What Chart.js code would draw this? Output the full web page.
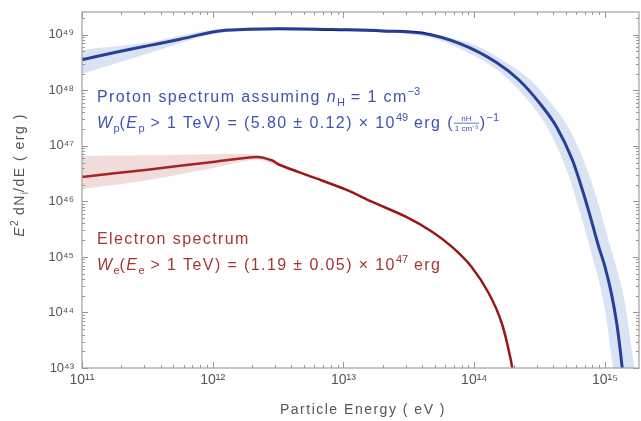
<!DOCTYPE html>
<html>
<head>
<meta charset="utf-8">
<script src="https://cdn.jsdelivr.net/npm/chart.js@4.4.1/dist/chart.umd.min.js"></script>
<style>
html,body{margin:0;padding:0;background:#fff;}
#wrap{width:641px;height:421px;}
</style>
</head>
<body>
<div id="wrap"><canvas id="c" width="641" height="421"></canvas></div>
<script>
// ---- data (log10 values) ----
const protonLogE = [11.0, 11.25, 11.5, 11.75, 12.0, 12.1, 12.5, 13.0, 13.3, 13.6, 13.9, 14.17, 14.34, 14.5, 14.63, 14.75, 14.82, 14.88, 14.95, 15.0, 15.05, 15.09, 15.12, 15.15];
const protonLogW = [48.55, 48.68, 48.80, 48.92, 49.05, 49.08, 49.11, 49.09, 49.07, 49.03, 48.83, 48.50, 48.19, 47.77, 47.34, 46.75, 46.26, 45.79, 45.20, 44.82, 44.33, 43.80, 43.25, 42.6];

const protonBandLogE  = [11.0, 11.5, 12.0, 12.5, 13.3, 13.7, 14.0, 14.2, 14.4, 14.55, 14.7, 14.8, 14.9, 14.95, 15.0, 15.05, 15.1, 15.15, 15.2, 15.25];
const protonBandUpper = [48.73, 48.86, 49.09, 49.13, 49.09, 49.00, 48.82, 48.57, 48.25, 47.88, 47.41, 46.95, 46.33, 45.95, 45.53, 45.11, 44.70, 44.20, 43.40, 42.6];
const protonBandLower = [48.30, 48.66, 49.01, 49.09, 49.05, 48.93, 48.62, 48.32, 47.85, 47.37, 46.61, 45.87, 45.03, 44.60, 44.05, 43.2, 42.4, 42.0, 42.0, 42.0];

const electronLogE = [11.0, 11.5, 12.0, 12.34, 12.45, 12.51, 12.76, 13.02, 13.22, 13.48, 13.68, 13.83, 13.98, 14.11, 14.21, 14.28, 14.31];
const electronLogW = [46.44, 46.57, 46.71, 46.80, 46.74, 46.66, 46.44, 46.21, 45.99, 45.72, 45.45, 45.18, 44.82, 44.35, 43.81, 43.14, 42.7];

const electronBandLogE  = [11.0, 11.5, 12.0, 12.34, 12.5];
const electronBandUpper = [46.82, 46.83, 46.85, 46.84, 46.69];
const electronBandLower = [46.22, 46.38, 46.60, 46.76, 46.63];

const xTickValues = [1e11, 1e12, 1e13, 1e14, 1e15];
const xTickLabels = ['10¹¹', '10¹²', '10¹³', '10¹⁴', '10¹⁵'];
const yTickValues = [1e43, 1e44, 1e45, 1e46, 1e47, 1e48, 1e49];
const yTickLabels = ['10⁴³', '10⁴⁴', '10⁴⁵', '10⁴⁶', '10⁴⁷', '10⁴⁸', '10⁴⁹'];

const xTitle = 'Particle Energy ( eV )';

// ---- helpers ----
const pts = (le, lw) => le.map((e, i) => ({x: Math.pow(10, e), y: Math.pow(10, lw[i])}));
function withMinors(majors, min, max) {
  const out = [];
  majors.forEach(m => { for (let k = 1; k <= 9; k++) { const v = m * k; if (v >= min * 0.999 && v <= max * 1.001) out.push(v); } });
  return out;
}
const X_MIN = 1e11, X_MAX = 1.82e15, Y_MIN = 1e43, Y_MAX = 2.57e49;
const xAll = withMinors(xTickValues, X_MIN, X_MAX);
const yAll = withMinors(yTickValues, Y_MIN, Y_MAX);

const FONT = '"Liberation Sans", Arial, sans-serif';
function setLS(ctx, v) { if ('letterSpacing' in ctx) ctx.letterSpacing = v; }
function rich(ctx, x, y, segs, base, color, ls) {
  ctx.fillStyle = color;
  ctx.textBaseline = 'alphabetic';
  ctx.textAlign = 'left';
  segs.forEach(s => {
    const size = s.small ? Math.round(base * 0.68) : base;
    ctx.font = (s.i ? 'italic ' : '') + size + 'px ' + FONT;
    setLS(ctx, s.small ? '0px' : ls);
    const dy = s.sup ? -base * 0.42 : (s.sub ? base * 0.25 : 0);
    if (s.frac) {
      const fs = Math.round(base * 0.5);
      ctx.font = fs + 'px ' + FONT;
      setLS(ctx, '0px');
      const w1 = ctx.measureText(s.frac[0]).width, w2 = ctx.measureText(s.frac[1]).width;
      const w = Math.max(w1, w2) + 2;
      ctx.fillText(s.frac[0], x + (w - w1) / 2, y - base * 0.45);
      ctx.fillText(s.frac[1], x + (w - w2) / 2, y + base * 0.2);
      ctx.fillRect(x, y - base * 0.33, w, 0.8);
      x += w + 1;
      return;
    }
    ctx.fillText(s.t, x, y + dy);
    x += ctx.measureText(s.t).width;
  });
  setLS(ctx, '0px');
  return x;
}

const overlay = {
  id: 'overlay',
  afterDraw(chart) {
    const ctx = chart.ctx, a = chart.chartArea;
    const xs = chart.scales.x, ys = chart.scales.y;
    ctx.save();
    // frame
    ctx.strokeStyle = '#a8a8a8';
    ctx.lineWidth = 1.3;
    ctx.strokeRect(a.left, a.top, a.right - a.left, a.bottom - a.top);
    // inward ticks
    ctx.lineWidth = 1;
    ctx.strokeStyle = '#999';
    ctx.beginPath();
    xAll.forEach(v => {
      const px = Math.round(xs.getPixelForValue(v)) + 0.5;
      const L = xTickValues.includes(v) ? 6 : 3;
      ctx.moveTo(px, a.bottom); ctx.lineTo(px, a.bottom - L);
      ctx.moveTo(px, a.top); ctx.lineTo(px, a.top + L);
    });
    yAll.forEach(v => {
      const py = Math.round(ys.getPixelForValue(v)) + 0.5;
      const L = yTickValues.includes(v) ? 6 : 3;
      ctx.moveTo(a.left, py); ctx.lineTo(a.left + L, py);
      ctx.moveTo(a.right, py); ctx.lineTo(a.right - L, py);
    });
    ctx.stroke();

    // axis titles
    ctx.fillStyle = '#555';
    ctx.font = '14px ' + FONT;
    setLS(ctx, '1.5px');
    ctx.textAlign = 'center';
    ctx.textBaseline = 'middle';
    ctx.fillText(xTitle, 363, 410);
    setLS(ctx, '0px');

    ctx.save();
    ctx.translate(19, 175);
    ctx.rotate(-Math.PI / 2);
    const ySegs = [{t: 'E', i: true}, {t: '2', sup: true, small: true}, {t: ' dN'}, {t: 'i', sub: true, small: true}, {t: '/dE ( erg )'}];
    let tw = 0;
    ySegs.forEach(s => { ctx.font = (s.i ? 'italic ' : '') + (s.small ? 10 : 14) + 'px ' + FONT; setLS(ctx, s.small ? '0px' : '1.5px'); tw += ctx.measureText(s.t).width; });
    rich(ctx, -tw / 2, 5, ySegs, 14, '#555', '1.5px');
    ctx.restore();

    // annotations
    const blue = 'rgb(62,84,176)', red = 'rgb(168,52,52)';
    const B = 16, LS = '1.4px';
    rich(ctx, 97, 102, [
      {t: 'Proton spectrum assuming '}, {t: 'n', i: true}, {t: 'H', sub: true, small: true},
      {t: ' = 1 cm'}, {t: '−3', sup: true, small: true}
    ], B, blue, LS);
    rich(ctx, 97, 128, [
      {t: 'W', i: true}, {t: 'p', sub: true, small: true}, {t: '('}, {t: 'E', i: true}, {t: 'p', sub: true, small: true},
      {t: ' > 1 TeV) = (5.80 ± 0.12) × 10'}, {t: '49', sup: true, small: true}, {t: ' erg ('},
      {frac: ['nH', '1 cm⁻³']}, {t: ')'}, {t: '−1', sup: true, small: true}
    ], B, blue, LS);
    rich(ctx, 97, 244, [{t: 'Electron spectrum'}], B, red, LS);
    rich(ctx, 97, 270, [
      {t: 'W', i: true}, {t: 'e', sub: true, small: true}, {t: '('}, {t: 'E', i: true}, {t: 'e', sub: true, small: true},
      {t: ' > 1 TeV) = (1.19 ± 0.05) × 10'}, {t: '47', sup: true, small: true}, {t: ' erg'}
    ], B, red, LS);
    ctx.restore();
  }
};

new Chart(document.getElementById('c'), {
  type: 'line',
  data: {
    datasets: [
      {data: pts(protonBandLogE, protonBandUpper), borderWidth: 0, pointRadius: 0, fill: '+1', backgroundColor: 'rgba(110,145,210,0.26)', borderColor: 'rgba(0,0,0,0)', tension: 0.3},
      {data: pts(protonBandLogE, protonBandLower), borderWidth: 0, pointRadius: 0, fill: false, borderColor: 'rgba(0,0,0,0)', tension: 0.3},
      {data: pts(electronBandLogE, electronBandUpper), borderWidth: 0, pointRadius: 0, fill: '+1', backgroundColor: 'rgba(190,90,90,0.22)', borderColor: 'rgba(0,0,0,0)', tension: 0.2},
      {data: pts(electronBandLogE, electronBandLower), borderWidth: 0, pointRadius: 0, fill: false, borderColor: 'rgba(0,0,0,0)', tension: 0.2},
      {data: pts(protonLogE, protonLogW), borderColor: 'rgb(16,36,132)', borderWidth: 3, pointRadius: 0, fill: false, cubicInterpolationMode: 'monotone'},
      {data: pts(electronLogE, electronLogW), borderColor: 'rgb(155,22,22)', borderWidth: 2.5, pointRadius: 0, fill: false, tension: 0.3}
    ]
  },
  options: {
    responsive: false,
    animation: false,
    devicePixelRatio: 1,
    layout: {padding: {top: 12, right: 2, left: 0, bottom: 0}},
    plugins: {legend: {display: false}, tooltip: {enabled: false}},
    scales: {
      x: {
        type: 'logarithmic', min: X_MIN, max: X_MAX,
        grid: {display: false, drawTicks: false}, border: {display: false},
        afterBuildTicks: s => { s.ticks = xAll.map(v => ({value: v})); },
        afterFit: s => { s.height = 53; s.paddingLeft = 0; s.paddingRight = 0; },
        ticks: {
          autoSkip: false, maxRotation: 0, padding: 4, color: '#555',
          font: {family: FONT, size: 14},
          callback: v => { const i = xTickValues.indexOf(v); return i >= 0 ? xTickLabels[i] : ''; }
        }
      },
      y: {
        type: 'logarithmic', min: Y_MIN, max: Y_MAX,
        grid: {display: false, drawTicks: false}, border: {display: false},
        afterBuildTicks: s => { s.ticks = yAll.map(v => ({value: v})); },
        afterFit: s => { s.width = 82; s.paddingTop = 0; s.paddingBottom = 0; },
        ticks: {
          autoSkip: false, padding: 8, color: '#555',
          font: {family: FONT, size: 13},
          callback: v => { const i = yTickValues.indexOf(v); return i >= 0 ? yTickLabels[i] : ''; }
        }
      }
    }
  },
  plugins: [overlay]
});
</script>
</body>
</html>
